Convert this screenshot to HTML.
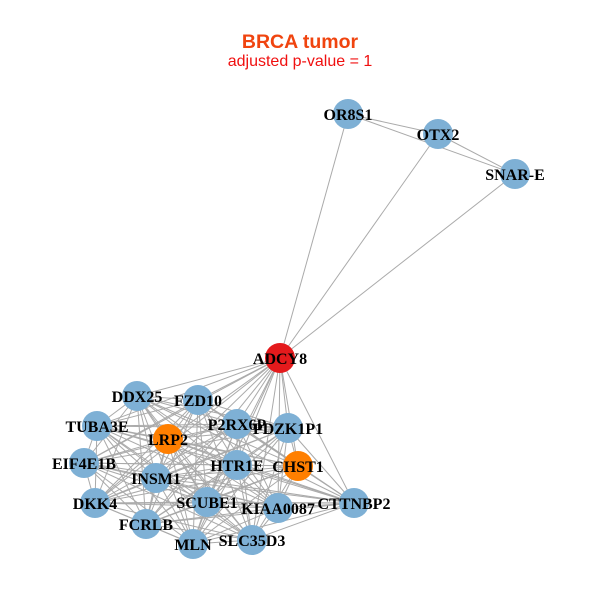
<!DOCTYPE html>
<html><head><style>
body{margin:0;background:#fff;}
svg{display:block;}
text{font-family:"Liberation Serif",serif;font-weight:bold;font-size:16px;}
</style></head><body>
<svg id="s" width="600" height="600" xmlns="http://www.w3.org/2000/svg">
<text x="300" y="48" text-anchor="middle" style="font-family:'Liberation Sans',sans-serif;font-size:19.5px;fill:#F0440F">BRCA tumor</text>
<text x="300" y="66" text-anchor="middle" style="font-family:'Liberation Sans',sans-serif;font-size:16px;font-weight:normal;fill:#F01010">adjusted p-value = 1</text>
<g id="e" stroke="#aaa" stroke-width="1"></g>
<g id="n"></g>
</svg>
<script>
var N={ADCY8:[280,358,'#E41A1C'],DDX25:[137,396],FZD10:[198,400],TUBA3E:[97,426],LRP2:[168,439,'#FF7F00'],P2RX6P:[237,424],PDZK1P1:[288,428],EIF4E1B:[84,463],INSM1:[156,478],HTR1E:[237,465],CHST1:[298,466,'#FF7F00'],DKK4:[95,503],SCUBE1:[207,502],KIAA0087:[278,508],CTTNBP2:[354,503],FCRLB:[146,524],MLN:[193,544],SLC35D3:[252,540],OR8S1:[348,114],OTX2:[438,134],'SNAR-E':[515,174]};
var ns="http://www.w3.org/2000/svg",E=document.getElementById('e'),G=document.getElementById('n');
function L(a,b){var l=document.createElementNS(ns,'line');l.setAttribute('x1',N[a][0]);l.setAttribute('y1',N[a][1]);l.setAttribute('x2',N[b][0]);l.setAttribute('y2',N[b][1]);E.appendChild(l);}
var top3=['OR8S1','OTX2','SNAR-E'];
L('OR8S1','OTX2');L('OTX2','SNAR-E');L('OR8S1','SNAR-E');
top3.forEach(function(t){L(t,'ADCY8');});
var cl=Object.keys(N).filter(function(k){return top3.indexOf(k)<0;});
for(var i=0;i<cl.length;i++)for(var j=i+1;j<cl.length;j++)L(cl[i],cl[j]);
for(var k in N){var c=document.createElementNS(ns,'circle');c.setAttribute('cx',N[k][0]);c.setAttribute('cy',N[k][1]);c.setAttribute('r',15);c.setAttribute('fill',N[k][2]||'#7EB0D5');G.appendChild(c);}
for(var k in N){var t=document.createElementNS(ns,'text');t.setAttribute('x',N[k][0]);t.setAttribute('y',N[k][1]+6);t.setAttribute('text-anchor','middle');t.textContent=k;G.appendChild(t);}
</script>
</body></html>
